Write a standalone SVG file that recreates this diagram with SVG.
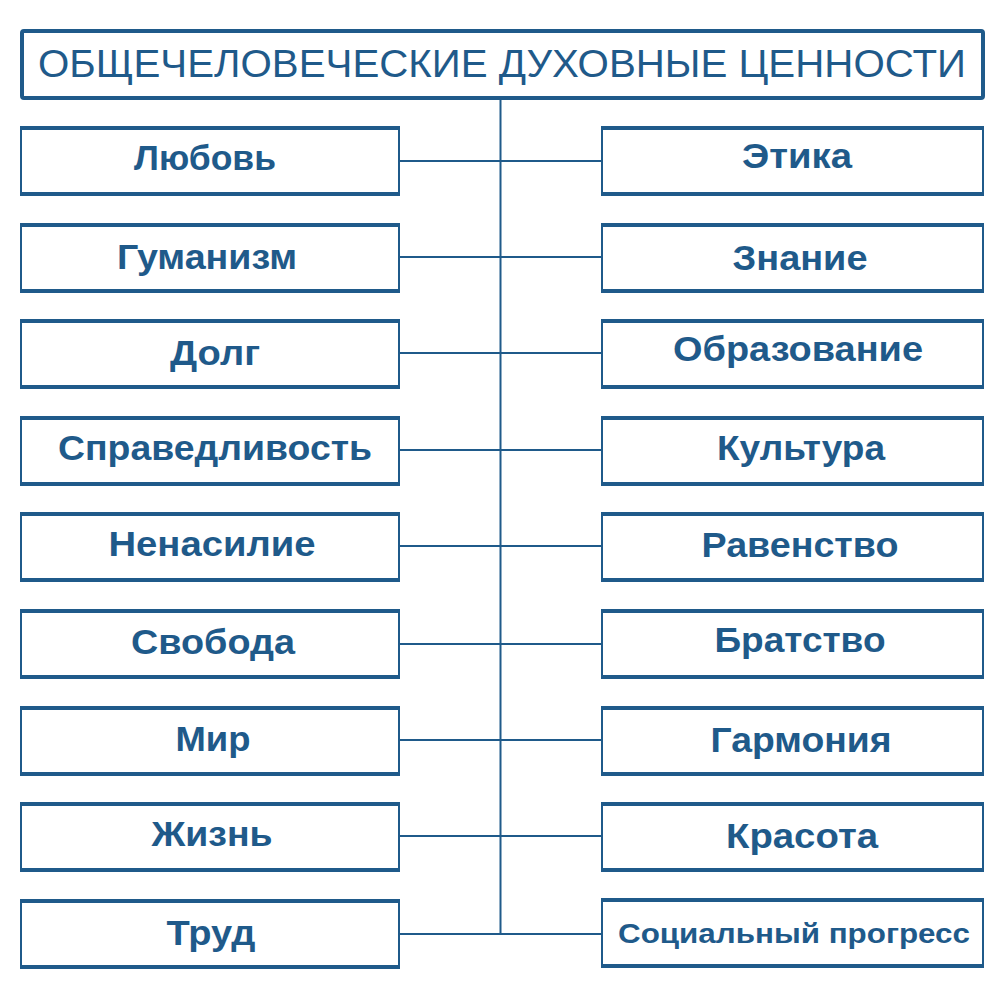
<svg xmlns="http://www.w3.org/2000/svg" width="1000" height="1000" viewBox="0 0 1000 1000">
<style>
.frame{fill:#1f5a8a}
.inner{fill:#ffffff}
.lbl{font-family:"Liberation Sans",Arial,sans-serif;font-weight:bold;font-size:35px;fill:#1f5a8a;text-anchor:middle}
.title{font-family:"Liberation Sans",Arial,sans-serif;font-size:39px;fill:#1f5a8a;text-anchor:middle}
.conn{stroke:#1f5a8a;stroke-width:2;fill:none}
</style>
<rect width="1000" height="1000" fill="#ffffff"/>
<g id="connectors">
<line class="conn" x1="500.5" y1="99" x2="500.5" y2="934"/>
<path class="conn" d="M400 161H601M400 257H601M400 353H601M400 450H601M400 546H601M400 644H601M400 740H601M400 836H601M400 934H601"/>
</g>
<g id="title">
<rect x="22" y="31" width="961" height="67" rx="2" fill="#ffffff" stroke="#1f5a8a" stroke-width="4"/>
<text class="title" x="502" y="77" textLength="928" lengthAdjust="spacingAndGlyphs">ОБЩЕЧЕЛОВЕЧЕСКИЕ ДУХОВНЫЕ ЦЕННОСТИ</text>
</g>
<g id="n-love"><rect class="frame" x="20" y="126" width="380" height="70"/><rect class="inner" x="22" y="130" width="376" height="62"/><text class="lbl" x="205" y="170" textLength="142" lengthAdjust="spacingAndGlyphs">Любовь</text></g>
<g id="n-humanism"><rect class="frame" x="20" y="223" width="380" height="70"/><rect class="inner" x="22" y="227" width="376" height="62"/><text class="lbl" x="207" y="269" textLength="180" lengthAdjust="spacingAndGlyphs">Гуманизм</text></g>
<g id="n-duty"><rect class="frame" x="20" y="319" width="380" height="70"/><rect class="inner" x="22" y="323" width="376" height="62"/><text class="lbl" x="215" y="365" textLength="90" lengthAdjust="spacingAndGlyphs">Долг</text></g>
<g id="n-justice"><rect class="frame" x="20" y="416" width="380" height="70"/><rect class="inner" x="22" y="420" width="376" height="62"/><text class="lbl" x="215" y="460" textLength="314" lengthAdjust="spacingAndGlyphs">Справедливость</text></g>
<g id="n-nonviolence"><rect class="frame" x="20" y="512" width="380" height="70"/><rect class="inner" x="22" y="516" width="376" height="62"/><text class="lbl" x="212" y="556" textLength="207" lengthAdjust="spacingAndGlyphs">Ненасилие</text></g>
<g id="n-freedom"><rect class="frame" x="20" y="609" width="380" height="70"/><rect class="inner" x="22" y="613" width="376" height="62"/><text class="lbl" x="213" y="654" textLength="164" lengthAdjust="spacingAndGlyphs">Свобода</text></g>
<g id="n-peace"><rect class="frame" x="20" y="706" width="380" height="70"/><rect class="inner" x="22" y="710" width="376" height="62"/><text class="lbl" x="213" y="751" textLength="75" lengthAdjust="spacingAndGlyphs">Мир</text></g>
<g id="n-life"><rect class="frame" x="20" y="802" width="380" height="70"/><rect class="inner" x="22" y="806" width="376" height="62"/><text class="lbl" x="212" y="846" textLength="121" lengthAdjust="spacingAndGlyphs">Жизнь</text></g>
<g id="n-labor"><rect class="frame" x="20" y="899" width="380" height="70"/><rect class="inner" x="22" y="903" width="376" height="62"/><text class="lbl" x="211" y="945" textLength="89" lengthAdjust="spacingAndGlyphs">Труд</text></g>
<g id="n-ethics"><rect class="frame" x="601" y="126" width="383" height="70"/><rect class="inner" x="603" y="130" width="379" height="62"/><text class="lbl" x="797" y="168" textLength="110" lengthAdjust="spacingAndGlyphs">Этика</text></g>
<g id="n-knowledge"><rect class="frame" x="601" y="223" width="383" height="70"/><rect class="inner" x="603" y="227" width="379" height="62"/><text class="lbl" x="800" y="270" textLength="135" lengthAdjust="spacingAndGlyphs">Знание</text></g>
<g id="n-education"><rect class="frame" x="601" y="319" width="383" height="70"/><rect class="inner" x="603" y="323" width="379" height="62"/><text class="lbl" x="798" y="361" textLength="250" lengthAdjust="spacingAndGlyphs">Образование</text></g>
<g id="n-culture"><rect class="frame" x="601" y="416" width="383" height="70"/><rect class="inner" x="603" y="420" width="379" height="62"/><text class="lbl" x="801" y="460" textLength="168" lengthAdjust="spacingAndGlyphs">Культура</text></g>
<g id="n-equality"><rect class="frame" x="601" y="512" width="383" height="70"/><rect class="inner" x="603" y="516" width="379" height="62"/><text class="lbl" x="800" y="557" textLength="197" lengthAdjust="spacingAndGlyphs">Равенство</text></g>
<g id="n-brotherhood"><rect class="frame" x="601" y="609" width="383" height="70"/><rect class="inner" x="603" y="613" width="379" height="62"/><text class="lbl" x="800" y="652" textLength="171" lengthAdjust="spacingAndGlyphs">Братство</text></g>
<g id="n-harmony"><rect class="frame" x="601" y="706" width="383" height="70"/><rect class="inner" x="603" y="710" width="379" height="62"/><text class="lbl" x="801" y="752" textLength="181" lengthAdjust="spacingAndGlyphs">Гармония</text></g>
<g id="n-beauty"><rect class="frame" x="601" y="802" width="383" height="70"/><rect class="inner" x="603" y="806" width="379" height="62"/><text class="lbl" x="802" y="848" textLength="152" lengthAdjust="spacingAndGlyphs">Красота</text></g>
<g id="n-progress"><rect class="frame" x="601" y="898" width="383" height="70"/><rect class="inner" x="603" y="902" width="379" height="62"/><text class="lbl" x="794" y="943" style="font-size:28px" textLength="352" lengthAdjust="spacingAndGlyphs">Социальный прогресс</text></g>
</svg>
